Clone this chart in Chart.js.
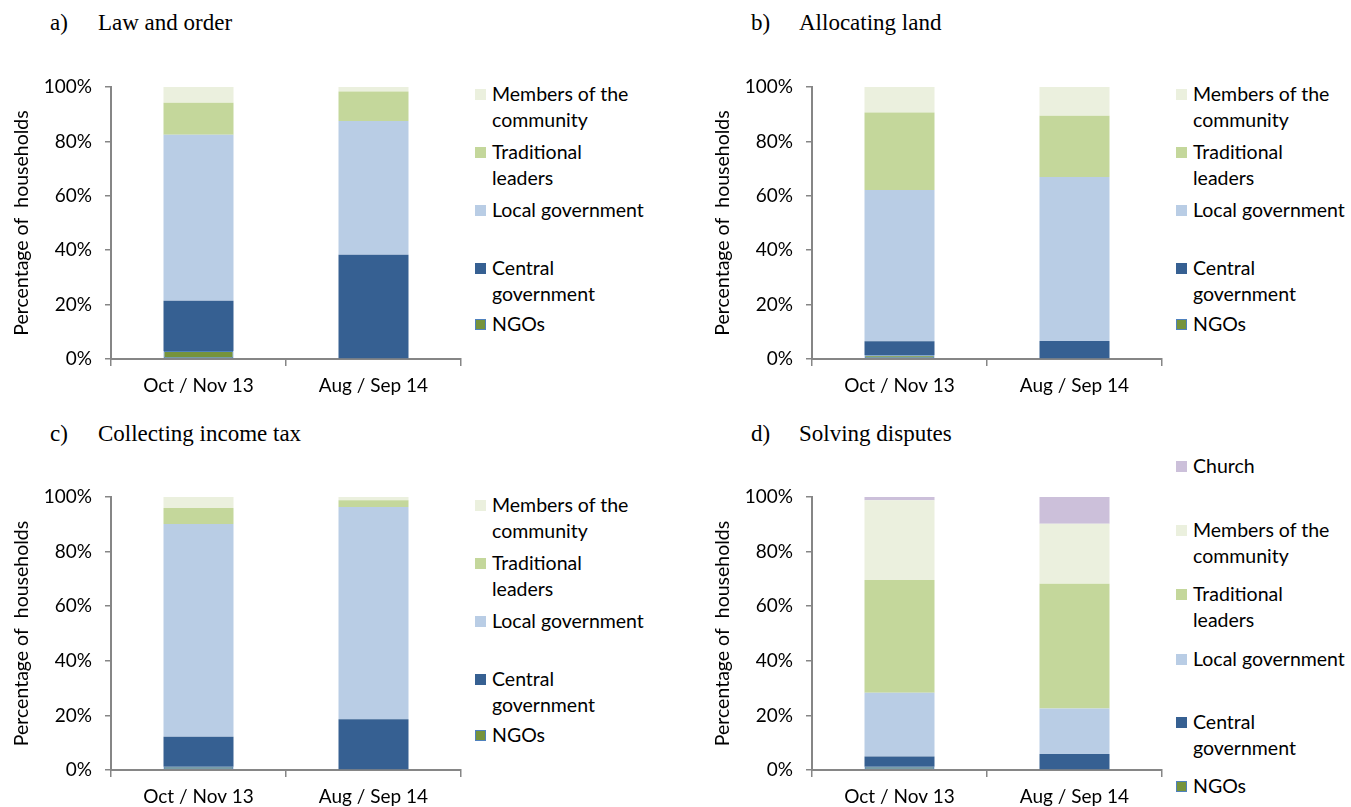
<!DOCTYPE html>
<html><head><meta charset="utf-8">
<script src="https://cdn.jsdelivr.net/npm/chart.js@4.4.0/dist/chart.umd.min.js"></script>
<style>
body{margin:0;background:#fff;width:1351px;height:807px;position:relative;overflow:hidden;font-family:Lato,sans-serif}
canvas{position:absolute}
.ttl{position:absolute;font-family:"Liberation Serif",serif;font-size:23px;line-height:22px;color:#000;white-space:nowrap}
.lg{position:absolute;font-family:Lato,sans-serif;font-size:19.5px;line-height:26px;color:#000}
.sq{position:absolute;width:11px;height:11px;left:0;box-sizing:border-box}
.tx{position:absolute;left:17px;top:0;white-space:nowrap}
</style></head><body>
<script>
// ---------- DATA ----------
const categories = ['Oct / Nov 13', 'Aug / Sep 14'];
const yTicks = [0, 20, 40, 60, 80, 100];

const lawNGOs     = [2.9, 0];
const lawCentral  = [18.5, 38.3];
const lawLocal    = [61.0, 49.2];
const lawTrad     = [11.8, 10.8];
const lawMembers  = [5.8, 1.7];

const landNGOs    = [1.4, 0];
const landCentral = [5.1, 6.6];
const landLocal   = [55.6, 60.3];
const landTrad    = [28.5, 22.5];
const landMembers = [9.4, 10.6];

const taxNGOs     = [1.2, 0];
const taxCentral  = [11.0, 18.6];
const taxLocal    = [77.9, 77.7];
const taxTrad     = [5.9, 2.5];
const taxMembers  = [4.0, 1.2];

const dispNGOs    = [1.2, 0];
const dispCentral = [3.7, 5.9];
const dispLocal   = [23.4, 16.6];
const dispTrad    = [41.3, 45.7];
const dispMembers = [29.2, 22.0];
const dispChurch  = [1.2, 9.8];

// ---------- STYLE ----------
const S = {
  NGOs:    {label:['NGOs'], bg:'#76933C', border:'#4F81BD', bw:1},
  Central: {label:['Central','government'], bg:'#366092', border:'#366092', bw:0},
  Local:   {label:['Local government'], bg:'#B9CDE5', border:'#B9CDE5', bw:0},
  Trad:    {label:['Traditional','leaders'], bg:'#C4D79B', border:'#C4D79B', bw:0},
  Members: {label:['Members of the','community'], bg:'#EBF0DE', border:'#EBF0DE', bw:0},
  Church:  {label:['Church'], bg:'#CCC0DA', border:'#CCC0DA', bw:0}
};

const panels = [
  {letter:'a)', title:'Law and order', x:0, y:60, h:345, xh:46, tTop:12,
   series:[['NGOs',lawNGOs],['Central',lawCentral],['Local',lawLocal],['Trad',lawTrad],['Members',lawMembers]],
   legend:{x:475, ys:{Members:94, Trad:152, Local:209.5, Central:268, NGOs:323.5}}},
  {letter:'b)', title:'Allocating land', x:701, y:60, h:345, xh:46, tTop:12,
   series:[['NGOs',landNGOs],['Central',landCentral],['Local',landLocal],['Trad',landTrad],['Members',landMembers]],
   legend:{x:1176, ys:{Members:94, Trad:152, Local:209.5, Central:268, NGOs:323.5}}},
  {letter:'c)', title:'Collecting income tax', x:0, y:470, h:337, xh:37, tTop:423,
   series:[['NGOs',taxNGOs],['Central',taxCentral],['Local',taxLocal],['Trad',taxTrad],['Members',taxMembers]],
   legend:{x:475, ys:{Members:505, Trad:563, Local:620.5, Central:679, NGOs:734.5}}},
  {letter:'d)', title:'Solving disputes', x:701, y:470, h:337, xh:37, tTop:423,
   series:[['NGOs',dispNGOs],['Central',dispCentral],['Local',dispLocal],['Trad',dispTrad],['Members',dispMembers],['Church',dispChurch]],
   legend:{x:1176, ys:{Church:466, Members:530, Trad:594, Local:658.5, Central:722, NGOs:786}}}
];

const AX = '#868686';
const W = 470;

panels.forEach((p) => {
  // titles
  const t1 = document.createElement('div'); t1.className='ttl';
  t1.style.left = (p.x + 50) + 'px'; t1.style.top = p.tTop + 'px'; t1.textContent = p.letter;
  document.body.appendChild(t1);
  const t2 = document.createElement('div'); t2.className='ttl';
  t2.style.left = (p.x + 98) + 'px'; t2.style.top = p.tTop + 'px'; t2.textContent = p.title;
  document.body.appendChild(t2);

  // legend
  Object.keys(p.legend.ys).forEach(k => {
    const st = S[k]; const cy = p.legend.ys[k];
    const d = document.createElement('div'); d.className='lg';
    d.style.left = p.legend.x + 'px'; d.style.top = (cy - 13) + 'px';
    const sq = document.createElement('div'); sq.className='sq';
    sq.style.top = '8px'; sq.style.background = st.bg;
    if (st.bw) sq.style.border = '1.5px solid ' + st.border;
    const tx = document.createElement('div'); tx.className='tx';
    tx.innerHTML = st.label.join('<br>');
    d.appendChild(sq); d.appendChild(tx);
    document.body.appendChild(d);
  });

  const cv = document.createElement('canvas');
  cv.width = W; cv.height = p.h;
  cv.style.left = p.x + 'px'; cv.style.top = p.y + 'px';
  cv.style.width = W + 'px'; cv.style.height = p.h + 'px';
  document.body.appendChild(cv);

  new Chart(cv, {
    type: 'bar',
    data: {
      labels: categories,
      datasets: p.series.map(([k, arr]) => ({
        label: S[k].label.join(' '),
        data: arr,
        backgroundColor: S[k].bg,
        borderColor: S[k].border,
        borderWidth: S[k].bw,
        borderSkipped: false,
        barPercentage: 0.4,
        categoryPercentage: 1.0
      }))
    },
    options: {
      responsive: false,
      animation: false,
      devicePixelRatio: 1,
      layout: {padding: {left: 0, right: 9, top: 27, bottom: 0}},
      plugins: {legend: {display: false}, tooltip: {enabled: false}},
      scales: {
        x: {
          stacked: true,
          offset: true,
          grid: {display: true, offset: true, drawOnChartArea: false, drawTicks: true, tickLength: 7, color: AX, lineWidth: 1.5},
          border: {display: true, color: AX, width: 2},
          ticks: {color: '#000', font: {family: 'Lato', size: 19}, padding: 8, maxRotation: 0},
          afterFit: (s) => { s.height = p.xh; }
        },
        y: {
          stacked: true,
          min: 0, max: 100,
          afterBuildTicks: (s) => { s.ticks = yTicks.map(v => ({value: v})); },
          grid: {display: true, drawOnChartArea: false, drawTicks: true, tickLength: 6, color: AX, lineWidth: 1.5},
          border: {display: true, color: AX, width: 2},
          ticks: {color: '#000', font: {family: 'Lato', size: 19}, padding: 13, callback: (v) => v + '%'},
          title: {display: true, text: 'Percentage of  households', color: '#000', font: {family: 'Lato', size: 19.5}, padding: {top: 10, bottom: 0}},
          afterFit: (s) => { s.width = 111; }
        }
      }
    }
  });
});
</script>
</body></html>
